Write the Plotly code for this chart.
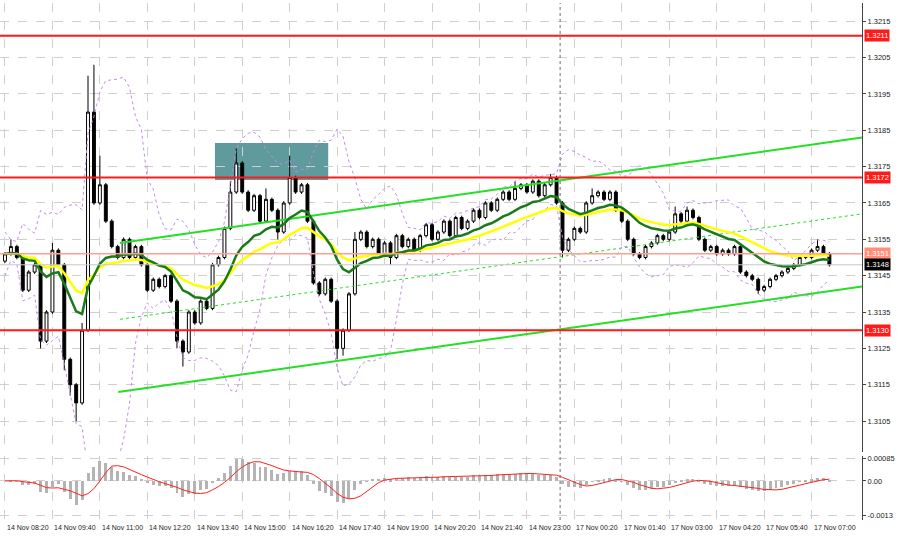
import plotly.graph_objects as go
import numpy as np
import pandas as pd

closes = [1.3151,1.3153,1.3150,1.3141,1.3146,1.3148,1.3127,1.3135,1.3152,1.3148,
1.3122,1.3115,1.3110,1.3130,1.3190,1.3165,1.3170,1.3160,1.3153,1.3150,
1.3155,1.3150,1.3153,1.3148,1.3141,1.3144,1.3142,1.3145,1.3138,1.3127,
1.3124,1.3135,1.3132,1.3138,1.3136,1.3148,1.3150,1.3158,1.3168,1.3176,
1.3168,1.3163,1.3167,1.3160,1.3166,1.3163,1.3157,1.3165,1.3172,1.3168,
1.3170,1.3160,1.3143,1.3140,1.3144,1.3138,1.3125,1.3130,1.3140,1.3155,
1.3157,1.3153,1.3155,1.3151,1.3154,1.3150,1.3156,1.3153,1.3155,1.3152,
1.3156,1.3159,1.3155,1.3157,1.3160,1.3156,1.3161,1.3158,1.3160,1.3163,
1.3161,1.3165,1.3163,1.3166,1.3168,1.3166,1.3169,1.3170,1.3168,1.3171,
1.3167,1.3170,1.3172,1.3165,1.3152,1.3155,1.3158,1.3157,1.3165,1.3167,
1.3168,1.3166,1.3168,1.3163,1.3160,1.3155,1.3151,1.3150,1.3153,1.3154,
1.3156,1.3155,1.3157,1.3162,1.3160,1.3163,1.3161,1.3155,1.3152,1.3153,
1.3151,1.3152,1.3151,1.3153,1.3146,1.3145,1.3144,1.3141,1.3142,1.3144,
1.3145,1.3146,1.3147,1.3148,1.3150,1.3150,1.3152,1.3153,1.3151,1.3148]
open0 = 1.3149
# wick extensions in pips beyond the body
up_wick = {14:10, 15:13, 16:8, 13:2, 39:4, 48:6, 38:3, 44:3, 113:2, 115:1, 137:2, 99:2, 92:1, 8:2, 1:2, 59:2, 86:2}
dn_wick = {12:5, 11:3, 30:4, 29:2, 56:3, 57:2, 127:1, 10:3, 6:2, 94:2, 46:2, 65:2}

tick_idx = list(range(0, 144, 8))
tick_text = ["14 Nov 08:20","14 Nov 09:40","14 Nov 11:00","14 Nov 12:20","14 Nov 13:40",
"14 Nov 15:00","14 Nov 16:20","14 Nov 17:40","14 Nov 19:00","14 Nov 20:20","14 Nov 21:40",
"14 Nov 23:00","17 Nov 00:20","17 Nov 01:40","17 Nov 03:00","17 Nov 04:20","17 Nov 05:40","17 Nov 07:00"]
price_ticks = [1.3105,1.3115,1.3125,1.3135,1.3145,1.3155,1.3165,1.3175,1.3185,1.3195,1.3205,1.3215]
red_levels = [1.3211, 1.3172, 1.3130]
bid_level = 1.3151
last_level = 1.3148
upper_channel = ([19.4, 144.5], [1.3154, 1.3183])
lower_channel = ([19.1, 144.5], [1.3113, 1.3142])
mid_channel = ([19.4, 144.5], [1.3133, 1.3162])
box_x = [35.4, 54.5]
box_y = [1.31713, 1.31815]
weekend_idx = 93.6

n = len(closes)
x = np.arange(n)
c = np.array(closes)
o = np.concatenate([[open0], c[:-1]])
hi = np.maximum(o, c) + np.array([up_wick.get(i, 0.5) for i in range(n)]) * 1e-4
lo = np.minimum(o, c) - np.array([dn_wick.get(i, 0.5) for i in range(n)]) * 1e-4
s = pd.Series(c)
ma_g = s.ewm(span=14, adjust=False).mean()
ma_y = s.ewm(span=26, adjust=False).mean()
bm = s.rolling(10, min_periods=1).mean(); bs = s.rolling(10, min_periods=2).std().fillna(0.0003)
macd = s.ewm(span=6, adjust=False).mean() - s.ewm(span=13, adjust=False).mean()
sig = macd.rolling(5, min_periods=1).mean()

FONT = "Liberation Sans"
fig = go.Figure()
fig.add_shape(type="rect", x0=box_x[0], x1=box_x[1], y0=box_y[0], y1=box_y[1], xref="x", yref="y",
              fillcolor="#5f9a9c", line=dict(width=0), layer="below")
for lv in red_levels:
    fig.add_hline(y=lv, line=dict(color="#ff1a1a", width=2), yref="y")
fig.add_hline(y=bid_level, line=dict(color="#ffa090", width=1.5))
fig.add_hline(y=last_level, line=dict(color="#c8c8c8", width=1))
for xs, ys, dash in [(upper_channel[0], upper_channel[1], "solid"), (lower_channel[0], lower_channel[1], "solid"), (mid_channel[0], mid_channel[1], "dot")]:
    fig.add_trace(go.Scatter(x=xs, y=ys, mode="lines", line=dict(color="#22e022", width=2 if dash=="solid" else 1, dash=dash), xaxis="x", yaxis="y"))
for band in [bm + 2*bs, bm - 2*bs]:
    fig.add_trace(go.Scatter(x=x, y=band, mode="lines", line=dict(color="#c58be8", width=1, dash="dot"), xaxis="x", yaxis="y"))
fig.add_trace(go.Scatter(x=x, y=ma_y, mode="lines", line=dict(color="#ffff00", width=2.5), xaxis="x", yaxis="y"))
fig.add_trace(go.Scatter(x=x, y=ma_g, mode="lines", line=dict(color="#1a7a1a", width=2.5), xaxis="x", yaxis="y"))
fig.add_trace(go.Candlestick(x=x, open=o, high=hi, low=lo, close=c, xaxis="x", yaxis="y",
    increasing=dict(line=dict(color="#000000", width=1), fillcolor="#ffffff"),
    decreasing=dict(line=dict(color="#000000", width=1), fillcolor="#000000"), whiskerwidth=0))
fig.add_trace(go.Bar(x=x, y=macd, marker=dict(color="#b4b4b4", line=dict(width=0)), width=0.5, xaxis="x2", yaxis="y2"))
fig.add_trace(go.Scatter(x=x, y=sig, mode="lines", line=dict(color="#ff2020", width=1), xaxis="x2", yaxis="y2"))

fig.add_shape(type="line", x0=weekend_idx, x1=weekend_idx, y0=0, y1=1, xref="x", yref="paper",
              line=dict(color="#707070", width=1, dash="dot"))

xr = [-0.84, 144.5]
grid = dict(showgrid=True, gridcolor="#cfcfcf", griddash="dash", gridwidth=1)
tf = dict(size=7.5, color="#222", family=FONT)
fig.update_layout(
    width=900, height=537, margin=dict(l=0, r=38, t=3, b=17, autoexpand=False),
    paper_bgcolor="white", plot_bgcolor="white", showlegend=False, hovermode=False,
    bargap=0,
    xaxis=dict(domain=[0,1], range=xr, anchor="y", tickvals=tick_idx, showticklabels=False,
               rangeslider=dict(visible=False), zeroline=False, automargin=False, **grid),
    xaxis2=dict(domain=[0,1], range=xr, anchor="y2", matches="x", tickvals=tick_idx, showticklabels=False,
                zeroline=False, automargin=False, **grid),
    yaxis=dict(domain=[0.1315,1], range=[1.30965, 1.3220], side="right", tickvals=price_ticks,
               ticktext=[f"{p:.4f}" for p in price_ticks], automargin=False,
               tickfont=tf, zeroline=False,
               showline=True, linecolor="#444", linewidth=1, mirror=True, ticks="outside", ticklen=3, **grid),
    yaxis2=dict(domain=[0,0.124], range=[-0.00148, 0.00095], side="right", tickvals=[0.00085, 0, -0.0013],
                ticktext=["0.00085","0.00","-0.0013"], tickfont=tf, automargin=False,
                zeroline=False, showline=True, linecolor="#444", linewidth=1, mirror=True, ticks="outside", ticklen=3,
                **grid),
)
for lv, col in [(1.3211, "#ff1a1a"), (1.3172, "#ff1a1a"), (1.3130, "#ff1a1a"), (bid_level, "#ff8f7a"), (last_level, "#000000")]:
    fig.add_annotation(x=1.002, xref="paper", y=lv, yref="y", text=f"{lv:.4f}", showarrow=False, xanchor="left",
                       bgcolor=col, font=dict(size=7.5, color="white", family=FONT), borderpad=1)
for ti, tt in zip(tick_idx, tick_text):
    fig.add_annotation(x=ti, xref="x2", y=0, yref="paper", yshift=-2, text=tt, showarrow=False, xanchor="left",
                       yanchor="top", font=dict(size=7, color="#222", family=FONT))
fig.write_html("out.html", config={"displayModeBar": False},
               post_script="document.body.style.margin='0';document.body.style.overflow='hidden';")
